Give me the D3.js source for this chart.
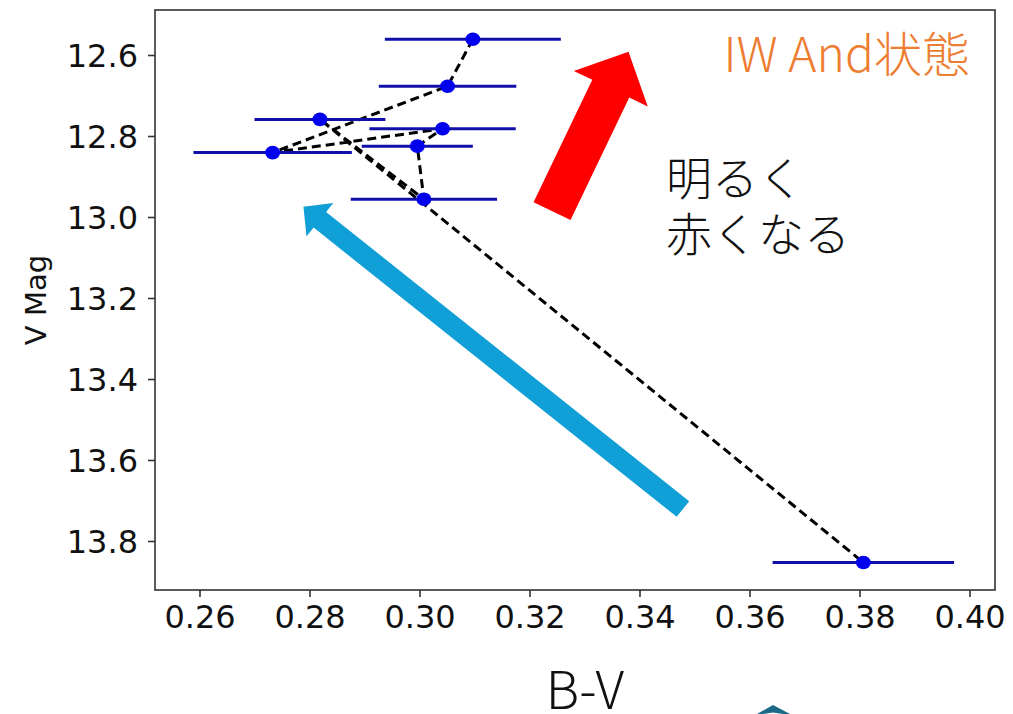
<!DOCTYPE html>
<html>
<head>
<meta charset="utf-8">
<script src="https://cdn.jsdelivr.net/npm/d3@7"></script>
<style>
  body { margin: 0; background: #fff; }
  svg { display: block; }
</style>
</head>
<body>
<div id="chart"></div>
<script>
// observations in time order (B-V, V mag, B-V error)
const bv    = [0.3097, 0.3051, 0.2733, 0.3042, 0.2996, 0.3008, 0.2819, 0.3807];
const vmag  = [12.561, 12.677, 12.841, 12.782, 12.825, 12.956, 12.759, 13.853];
const bvErr = [0.0160, 0.0125, 0.0144, 0.0133, 0.0101, 0.0133, 0.0119, 0.0165];

const xTicks = [0.26, 0.28, 0.30, 0.32, 0.34, 0.36, 0.38, 0.40];
const yTicks = [12.6, 12.8, 13.0, 13.2, 13.4, 13.6, 13.8];

// annotation arrows, in data units: tail -> tip
const arrowTail = [[0.3479, 13.721], [0.3241, 12.9857]];
const arrowTip  = [[0.2789, 12.9746], [0.3380, 12.5919]];

const noteLines = ["明るく", "赤くなる"];

const W = 1013, H = 714;
const frame = { left: 155, right: 995, top: 10, bottom: 590 };

const x = d3.scaleLinear().domain([0.26, 0.40]).range([199.5, 969.5]);
const y = d3.scaleLinear().domain([12.6, 13.8]).range([55, 541]);

const svg = d3.select("#chart").append("svg")
  .attr("width", W)
  .attr("height", H);

svg.append("rect").attr("width", W).attr("height", H).attr("fill", "#fff");

const data = bv.map((d, i) => ({ bv: d, v: vmag[i], err: bvErr[i] }));

// dashed connecting line
svg.append("path")
  .datum(data)
  .attr("fill", "none")
  .attr("stroke", "#000")
  .attr("stroke-width", 3)
  .attr("stroke-dasharray", "9,5")
  .attr("d", d3.line().x(d => x(d.bv)).y(d => y(d.v)));

// error bars
svg.selectAll(".err")
  .data(data)
  .join("line")
  .attr("x1", d => x(d.bv - d.err))
  .attr("x2", d => x(d.bv + d.err))
  .attr("y1", d => y(d.v))
  .attr("y2", d => y(d.v))
  .attr("stroke", "#1010a8")
  .attr("stroke-width", 3);

// markers
svg.selectAll(".pt")
  .data(data)
  .join("ellipse")
  .attr("cx", d => x(d.bv))
  .attr("cy", d => y(d.v))
  .attr("rx", 7.5)
  .attr("ry", 6.8)
  .attr("fill", "#0000ee");

// frame
svg.append("rect")
  .attr("x", frame.left)
  .attr("y", frame.top)
  .attr("width", frame.right - frame.left)
  .attr("height", frame.bottom - frame.top)
  .attr("fill", "none")
  .attr("stroke", "#333")
  .attr("stroke-width", 1.6);

// axes
const xAxis = svg.append("g")
  .attr("transform", `translate(0,${frame.bottom})`)
  .call(d3.axisBottom(x).tickValues(xTicks).tickFormat(d3.format(".2f")).tickSize(7).tickPadding(8));
const yAxis = svg.append("g")
  .attr("transform", `translate(${frame.left},0)`)
  .call(d3.axisLeft(y).tickValues(yTicks).tickFormat(d3.format(".1f")).tickSize(7).tickPadding(10));

[xAxis, yAxis].forEach(g => {
  g.select(".domain").remove();
  g.selectAll(".tick line").attr("stroke", "#333").attr("stroke-width", 1.6);
  g.selectAll(".tick text")
    .attr("fill", "#111")
    .style("font-family", "'DejaVu Sans', sans-serif")
    .style("font-size", "32px");
});
yAxis.selectAll(".tick text").attr("dy", "0.36em");

// axis labels
svg.append("text")
  .attr("transform", "translate(46,300) rotate(-90)")
  .attr("text-anchor", "middle")
  .style("font-family", "'DejaVu Sans', sans-serif")
  .style("font-size", "29px")
  .attr("fill", "#111")
  .text("V Mag");

svg.append("text")
  .attr("x", 585)
  .attr("y", 709)
  .attr("text-anchor", "middle")
  .style("font-family", "'Noto Sans CJK JP', sans-serif")
  .style("font-weight", 300)
  .style("font-size", "52px")
  .attr("fill", "#111")
  .text("B-V");

// thick arrows
const arrowStyle = [
  { fill: "#109fd6", w: 20, hw: 43, hl: 21 },
  { fill: "#ff0000", w: 41, hw: 82, hl: 41 }
];

function arrowPoints(t, p, s) {
  const dx = p[0] - t[0], dy = p[1] - t[1];
  const len = Math.hypot(dx, dy);
  const ux = dx / len, uy = dy / len;
  const nx = -uy, ny = ux;
  const bx = p[0] - ux * s.hl, by = p[1] - uy * s.hl;
  return [
    [t[0] + nx * s.w / 2, t[1] + ny * s.w / 2],
    [bx + nx * s.w / 2, by + ny * s.w / 2],
    [bx + nx * s.hw / 2, by + ny * s.hw / 2],
    p,
    [bx - nx * s.hw / 2, by - ny * s.hw / 2],
    [bx - nx * s.w / 2, by - ny * s.w / 2],
    [t[0] - nx * s.w / 2, t[1] - ny * s.w / 2]
  ];
}

arrowTail.forEach((tail, i) => {
  const t = [x(tail[0]), y(tail[1])];
  const p = [x(arrowTip[i][0]), y(arrowTip[i][1])];
  svg.append("polygon")
    .attr("points", arrowPoints(t, p, arrowStyle[i]).map(d => d.join(",")).join(" "))
    .attr("fill", arrowStyle[i].fill);
});

// annotation texts
svg.append("text")
  .attr("x", 970)
  .attr("y", 72)
  .attr("text-anchor", "end")
  .style("font-family", "'Noto Sans CJK JP', sans-serif")
  .style("font-weight", 300)
  .style("font-size", "48px")
  .attr("fill", "#ed7d31")
  .text("IW And状態");

noteLines.forEach((line, i) => {
  svg.append("text")
    .attr("x", 666)
    .attr("y", 195 + i * 56)
    .style("font-family", "'Noto Sans CJK JP', sans-serif")
    .style("font-weight", 300)
    .style("font-size", "46px")
    .attr("fill", "#111")
    .text(line);
});

// cut-off decoration at bottom edge
svg.append("polygon")
  .attr("points", "757,714 773,705 790,714 783,714 773,712.5 763,714")
  .attr("fill", "#1b6a8a");
</script>
</body>
</html>
